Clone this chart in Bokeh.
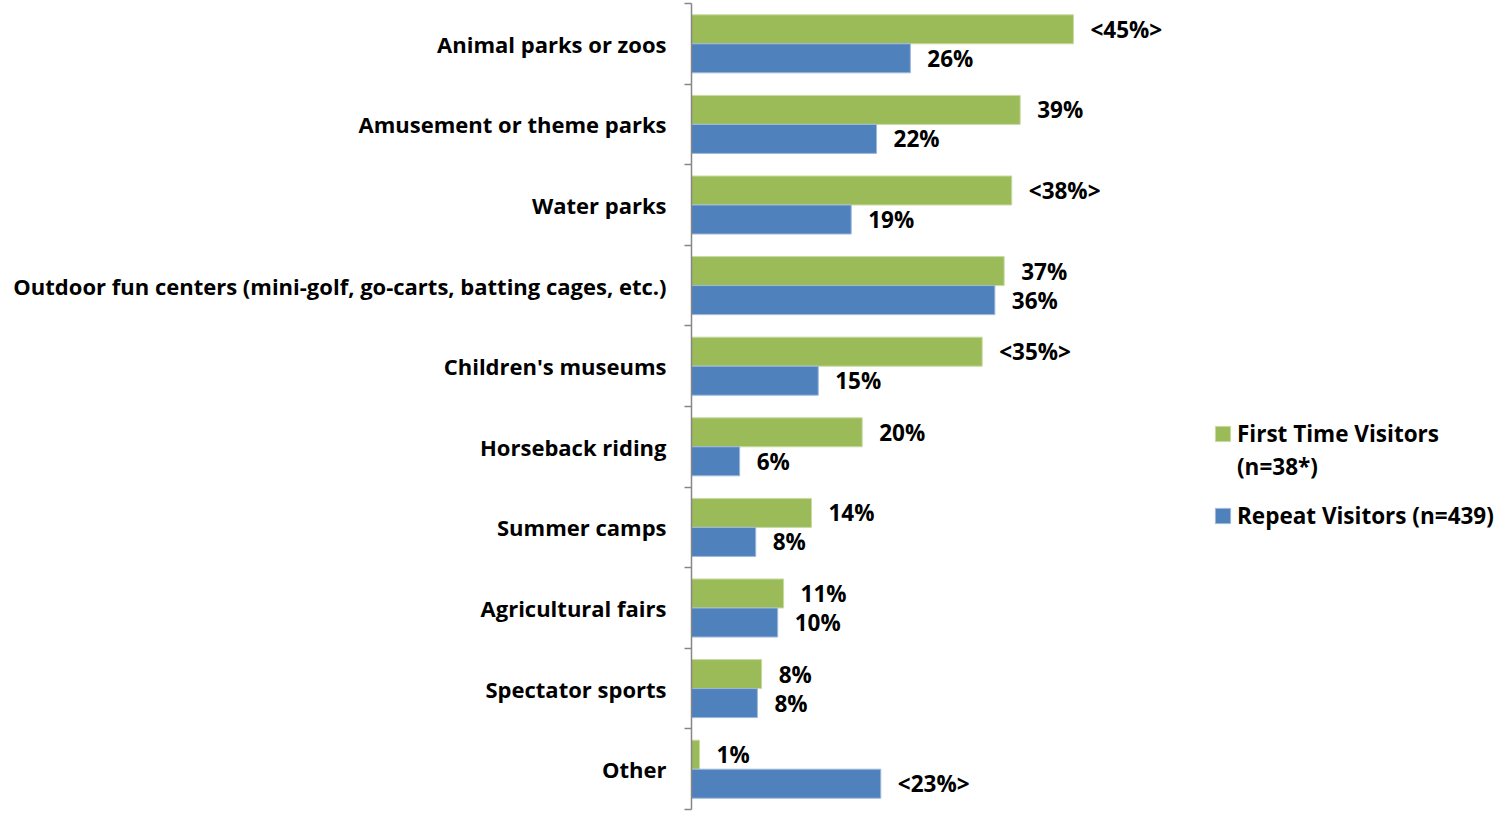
from bokeh.plotting import figure
from bokeh.models import ColumnDataSource, Range1d, FixedTicker, Legend, LegendItem
from bokeh.embed import file_html
from bokeh.resources import INLINE
from bokeh.core.properties import value

categories = [
    "Animal parks or zoos",
    "Amusement or theme parks",
    "Water parks",
    "Outdoor fun centers (mini-golf, go-carts, batting cages, etc.)",
    "Children's museums",
    "Horseback riding",
    "Summer camps",
    "Agricultural fairs",
    "Spectator sports",
    "Other",
]
first_time = [45.2, 38.9, 37.9, 37.0, 34.4, 20.2, 14.2, 10.9, 8.3, 0.95]
repeat = [25.9, 21.9, 18.9, 35.9, 15.0, 5.7, 7.6, 10.2, 7.8, 22.4]
first_labels = ["<45%>", "39%", "<38%>", "37%", "<35%>", "20%", "14%", "11%", "8%", "1%"]
repeat_labels = ["26%", "22%", "19%", "36%", "15%", "6%", "8%", "10%", "8%", "<23%>"]
series_names = ["First Time Visitors\n(n=38*)", "Repeat Visitors (n=439)"]
colors = ["#9BBB59", "#4F81BD"]

FONT = "Open Sans"
FS = "22px"
n = len(categories)
centers = [n - i - 0.5 for i in range(n)]
bounds = list(range(n + 1))
bar_h = 0.36

src_first = ColumnDataSource(dict(y=[c + bar_h / 2 for c in centers], v=first_time, t=first_labels))
src_rep = ColumnDataSource(dict(y=[c - bar_h / 2 for c in centers], v=repeat, t=repeat_labels))

p = figure(width=1498, height=812, output_backend="svg", toolbar_location=None,
           x_range=Range1d(0, 95.5), y_range=Range1d(0, n), x_axis_location=None,
           min_border_left=691, min_border_top=3, min_border_bottom=3, min_border_right=0)
p.outline_line_color = None
p.xgrid.grid_line_color = None
p.ygrid.grid_line_color = None

r1 = p.hbar(y="y", left=0, right="v", height=bar_h, source=src_first,
            fill_color=colors[0], line_color="#c9dba4", line_width=1)
r2 = p.hbar(y="y", left=0, right="v", height=bar_h, source=src_rep,
            fill_color=colors[1], line_color="#9fb8da", line_width=1)

for src in (src_first, src_rep):
    p.text(x="v", y="y", text="t", source=src, x_offset=17, text_baseline="middle",
           text_align="left", text_font=value(FONT), text_font_style="bold",
           text_font_size="22.5px", text_color="black")

ax = p.yaxis[0]
ax.ticker = FixedTicker(ticks=centers, minor_ticks=bounds)
ax.major_label_overrides = {c: name for c, name in zip(centers, categories)}
ax.major_tick_line_color = None
ax.major_tick_in = 0
ax.major_tick_out = 0
ax.minor_tick_in = 0
ax.minor_tick_out = 7
ax.minor_tick_line_color = "#868686"
ax.minor_tick_line_width = 1.5
ax.axis_line_color = "#868686"
ax.axis_line_width = 1.5
ax.major_label_standoff = 18
ax.major_label_text_font = FONT
ax.major_label_text_font_style = "bold"
ax.major_label_text_font_size = FS
ax.major_label_text_color = "black"

first_lines = series_names[0].split("\n")
leg_style = dict(
    orientation="vertical", border_line_color=None, background_fill_alpha=0,
    padding=0, margin=0, spacing=2, label_height=30,
    glyph_width=19, glyph_height=19, label_standoff=5,
    label_text_font=FONT, label_text_font_style="bold", label_text_font_size="22.5px",
    label_text_color="black",
)
legend_a = Legend(items=[LegendItem(label=first_lines[0], renderers=[r1]),
                         LegendItem(label=first_lines[1], renderers=[])],
                  location=(522, 327), **leg_style)
legend_b = Legend(items=[LegendItem(label=series_names[1], renderers=[r2])],
                  location=(522, 278), **leg_style)
p.add_layout(legend_a)
p.add_layout(legend_b)

open("out.html", "w").write(file_html(p, INLINE))
